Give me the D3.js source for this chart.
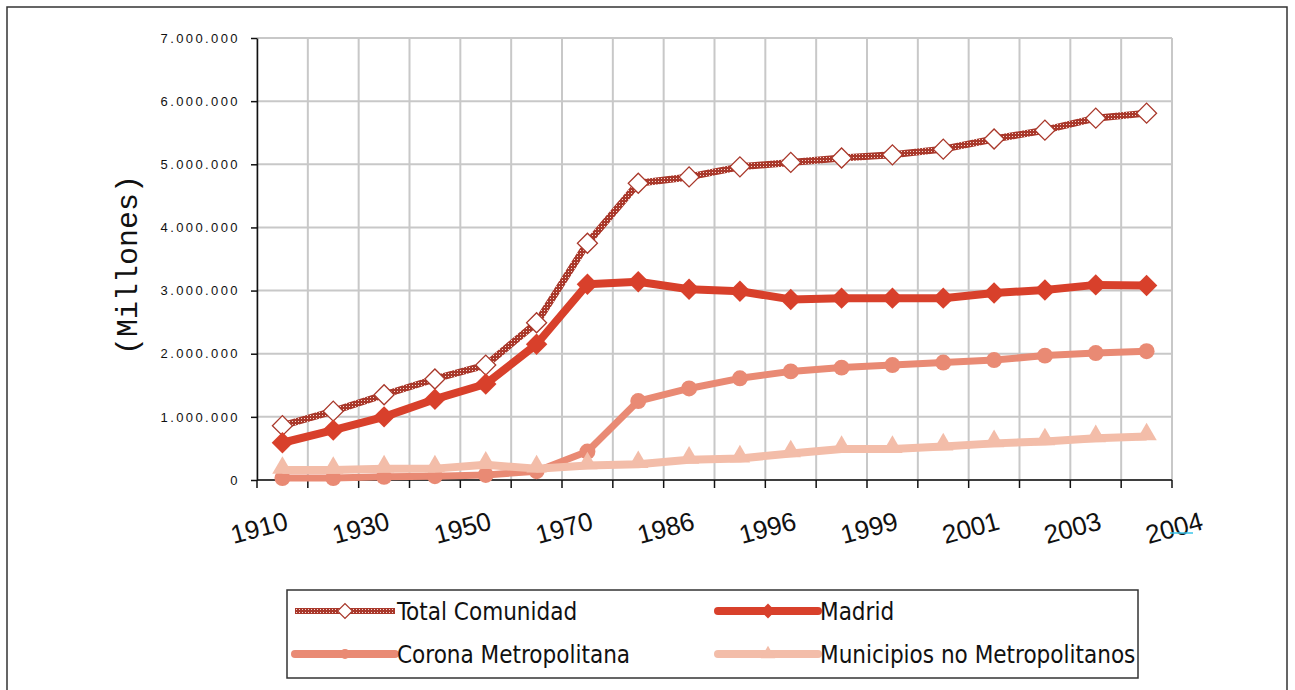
<!DOCTYPE html>
<html>
<head>
<meta charset="utf-8">
<script src="https://cdn.jsdelivr.net/npm/d3@7"></script>
<style>
  body { margin: 0; background: #fff; }
  svg { display: block; }
</style>
</head>
<body>
<svg width="1295" height="690"></svg>
<script>
var width = 1295;
var height = 690;

// tick labels under the x axis (one every two points)
var tickLabels = ["1910", "1930", "1950", "1970", "1986", "1996", "1999", "2001", "2003", "2004"];
var yTicks = [0, 1000000, 2000000, 3000000, 4000000, 5000000, 6000000, 7000000];

// series values, one per point
var totalComunidad = [860000, 1090000, 1350000, 1600000, 1820000, 2490000, 3750000, 4700000, 4800000, 4960000, 5030000, 5100000, 5150000, 5240000, 5400000, 5540000, 5730000, 5810000];
var madrid = [590000, 790000, 1000000, 1280000, 1520000, 2150000, 3100000, 3140000, 3020000, 2990000, 2860000, 2880000, 2880000, 2880000, 2960000, 3010000, 3090000, 3080000];
var corona = [30000, 30000, 50000, 60000, 80000, 140000, 450000, 1250000, 1450000, 1610000, 1720000, 1780000, 1820000, 1860000, 1900000, 1970000, 2010000, 2040000];
var municipios = [160000, 160000, 180000, 180000, 240000, 180000, 230000, 250000, 320000, 340000, 420000, 490000, 490000, 530000, 580000, 610000, 660000, 690000];

var seriesNames = ["Total Comunidad", "Madrid", "Corona Metropolitana", "Municipios no Metropolitanos"];

var plotLeft = 257, plotRight = 1172, plotTop = 38, plotBottom = 480;

var xScale = d3.scaleLinear()
  .domain([-0.5, totalComunidad.length - 0.5])
  .range([plotLeft, plotRight]);

var yScale = d3.scaleLinear()
  .domain([0, 7000000])
  .range([plotBottom, plotTop]);

var fmt = v => d3.format(",")(v).replace(/,/g, ".");

var svg = d3.select("svg");

// checkered stroke for Total Comunidad
var defs = svg.append("defs");
var pat = defs.append("pattern")
  .attr("id", "checker")
  .attr("patternUnits", "userSpaceOnUse")
  .attr("width", 3)
  .attr("height", 3);
pat.append("rect").attr("width", 3).attr("height", 3).attr("fill", "#a9382b");
pat.append("rect").attr("x", 1).attr("y", 1).attr("width", 1).attr("height", 1).attr("fill", "#f4d8d2");

// outer frame
svg.append("rect")
  .attr("x", 7).attr("y", 7)
  .attr("width", 1280).attr("height", 700)
  .attr("fill", "none")
  .attr("stroke", "#333")
  .attr("stroke-width", 1.5);

// grid
var xLines = d3.range(-0.5, totalComunidad.length, 1);
svg.append("g")
  .selectAll("line")
  .data(xLines)
  .enter()
  .append("line")
    .attr("x1", d => xScale(d))
    .attr("x2", d => xScale(d))
    .attr("y1", plotTop)
    .attr("y2", plotBottom)
    .attr("stroke", "#c8c8c8")
    .attr("stroke-width", 2);

svg.append("g")
  .selectAll("line")
  .data(yTicks)
  .enter()
  .append("line")
    .attr("x1", plotLeft)
    .attr("x2", plotRight)
    .attr("y1", d => yScale(d))
    .attr("y2", d => yScale(d))
    .attr("stroke", "#c8c8c8")
    .attr("stroke-width", 2);

// y axis
var yAxis = d3.axisLeft(yScale)
  .tickValues(yTicks)
  .tickFormat(fmt)
  .tickSize(6)
  .tickSizeOuter(0)
  .tickPadding(11);

svg.append("g")
  .attr("transform", `translate(${plotLeft}, 0)`)
  .call(yAxis)
  .call(g => g.select(".domain").attr("stroke", "#111").attr("stroke-width", 1.5))
  .call(g => g.selectAll(".tick line").attr("stroke", "#111").attr("stroke-width", 1.5))
  .call(g => g.selectAll("text")
    .style("font-family", "'Liberation Sans', Arial, sans-serif")
    .style("font-size", "13px")
    .style("letter-spacing", "2.4px")
    .attr("fill", "#111"));

// x axis line and ticks
svg.append("line")
  .attr("x1", plotLeft).attr("x2", plotRight)
  .attr("y1", plotBottom).attr("y2", plotBottom)
  .attr("stroke", "#111").attr("stroke-width", 1.5);

svg.append("g")
  .selectAll("line")
  .data(xLines)
  .enter()
  .append("line")
    .attr("x1", d => xScale(d))
    .attr("x2", d => xScale(d))
    .attr("y1", plotBottom)
    .attr("y2", plotBottom + 8)
    .attr("stroke", "#111")
    .attr("stroke-width", 1.5);

// x tick labels, rotated
svg.append("g")
  .selectAll("text")
  .data(tickLabels)
  .enter()
  .append("text")
    .attr("transform", (d, i) => `translate(${xScale(i * 2) + 7}, 529) rotate(-15)`)
    .style("text-anchor", "end")
    .style("font-family", "'Liberation Sans', Arial, sans-serif")
    .style("font-size", "26px")
    .attr("fill", "#111")
    .text(d => d);

// small cyan mark after the last label
svg.append("line")
  .attr("x1", xScale(17.5) - 2).attr("x2", xScale(17.5) + 21)
  .attr("y1", 533).attr("y2", 533)
  .attr("stroke", "#3cc6ea")
  .attr("stroke-width", 1.5);

// y title
svg.append("text")
  .attr("transform", `translate(137, 265) rotate(-90)`)
  .style("text-anchor", "middle")
  .style("font-family", "'Liberation Mono', 'DejaVu Sans Mono', monospace")
  .style("font-size", "30px")
  .attr("fill", "#111")
  .text("(Millones)");

// series
var line = d3.line()
  .x((d, i) => xScale(i))
  .y(d => yScale(d));

function drawSeries(values, cfg) {
  var g = svg.append("g");
  g.append("path")
    .datum(values)
    .attr("d", line)
    .attr("fill", "none")
    .attr("stroke", cfg.stroke)
    .attr("stroke-width", cfg.width)
    .attr("stroke-linejoin", "round");
  g.selectAll("path.m")
    .data(values)
    .enter()
    .append("path")
      .attr("class", "m")
      .attr("d", cfg.symbol)
      .attr("transform", (d, i) => `translate(${xScale(i)}, ${yScale(d) + (cfg.dy || 0)}) rotate(${cfg.rot || 0})`)
      .attr("fill", cfg.fill)
      .attr("stroke", cfg.mstroke || "none")
      .attr("stroke-width", cfg.mwidth || 0);
}

var styles = [
  { stroke: "url(#checker)", width: 7, symbol: d3.symbol().type(d3.symbolSquare).size(200)(), rot: 45, fill: "#fff", mstroke: "#a9382b", mwidth: 1.3 },
  { stroke: "#d8402b", width: 8, symbol: d3.symbol().type(d3.symbolSquare).size(230)(), rot: 45, fill: "#d8402b" },
  { stroke: "#e98a74", width: 7, symbol: d3.symbol().type(d3.symbolCircle).size(200)(), fill: "#e98a74" },
  { stroke: "#f3bda9", width: 8, symbol: d3.symbol().type(d3.symbolTriangle).size(180)(), fill: "#f3bda9", dy: -2 }
];

drawSeries(totalComunidad, styles[0]);
drawSeries(madrid, styles[1]);
drawSeries(corona, styles[2]);
drawSeries(municipios, styles[3]);

// legend
svg.append("rect")
  .attr("x", 287).attr("y", 590)
  .attr("width", 851).attr("height", 88)
  .attr("fill", "#fff")
  .attr("stroke", "#333")
  .attr("stroke-width", 1.5);

var legendPos = [[295, 611], [718, 611], [295, 654], [718, 654]];
var legendMarks = [
  d3.symbol().type(d3.symbolSquare).size(110)(),
  d3.symbol().type(d3.symbolSquare).size(110)(),
  d3.symbol().type(d3.symbolCircle).size(80)(),
  d3.symbol().type(d3.symbolTriangle).size(90)()
];

var leg = svg.append("g")
  .selectAll("g")
  .data(seriesNames)
  .enter()
  .append("g")
    .attr("transform", (d, i) => `translate(${legendPos[i][0]}, ${legendPos[i][1]})`);

leg.append("line")
  .attr("x1", 0).attr("x2", 100)
  .attr("stroke", (d, i) => styles[i].stroke)
  .attr("stroke-width", (d, i) => i === 0 ? 6 : 8)
  .attr("stroke-linecap", (d, i) => i === 0 ? "butt" : "round");

leg.append("path")
  .attr("d", (d, i) => legendMarks[i])
  .attr("transform", (d, i) => `translate(50, 0) rotate(${styles[i].rot || 0})`)
  .attr("fill", (d, i) => styles[i].fill)
  .attr("stroke", (d, i) => styles[i].mstroke || "none")
  .attr("stroke-width", 1.2);

leg.append("text")
  .attr("x", 102)
  .attr("dy", "0.36em")
  .style("font-family", "'Liberation Sans Narrow', 'DejaVu Sans Condensed', sans-serif")
  .style("font-size", "24px")
  .attr("fill", "#111")
  .text(d => d);
</script>
</body>
</html>
